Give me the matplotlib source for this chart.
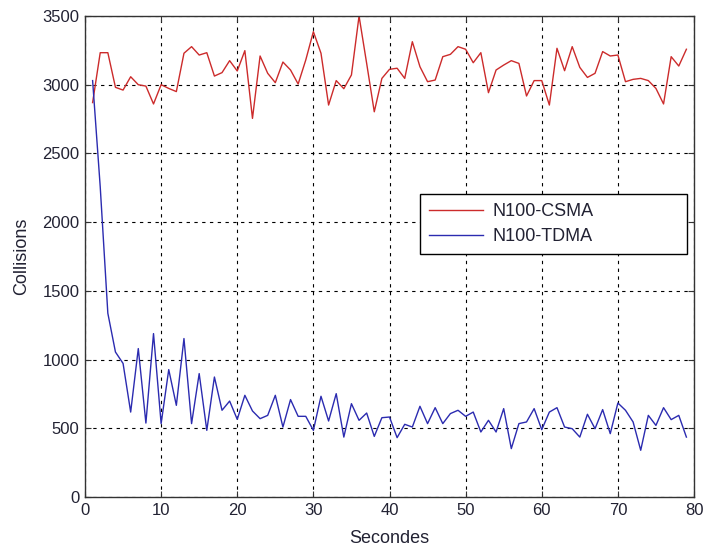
import matplotlib
matplotlib.use("Agg")
import matplotlib.pyplot as plt

seconds = list(range(1, 80))
csma = [2870, 3233, 3233, 2981, 2961, 3058, 3000, 2990, 2860, 3000,
        2973, 2950, 3229, 3277, 3216, 3233, 3063, 3088, 3175, 3100,
        3248, 2755, 3209, 3083, 3015, 3165, 3107, 3005, 3180, 3386,
        3229, 2852, 3030, 2971, 3071, 3500, 3155, 2803, 3046, 3112,
        3120, 3046, 3313, 3131, 3022, 3034, 3204, 3221, 3277, 3258,
        3160, 3233, 2942, 3107, 3143, 3175, 3155, 2918, 3030, 3030,
        2852, 3265, 3102, 3277, 3126, 3053, 3083, 3241, 3209, 3216,
        3022, 3039, 3046, 3030, 2973, 2860, 3204, 3136, 3258]
tdma = [3030, 2257, 1337, 1055, 972, 618, 1080, 538, 1189, 534,
        927, 667, 1153, 534, 898, 485, 873, 631, 698, 565,
        740, 626, 570, 594, 740, 509, 709, 587, 587, 485,
        733, 553, 752, 436, 679, 558, 611, 441, 577, 582,
        432, 529, 509, 660, 534, 650, 534, 607, 631, 587,
        618, 473, 558, 473, 643, 352, 534, 546, 643, 490,
        618, 650, 509, 497, 436, 602, 497, 636, 461, 684,
        631, 546, 340, 594, 521, 650, 563, 594, 436]
labels = ["N100-CSMA", "N100-TDMA"]

plt.rcParams['font.family'] = ['Liberation Sans', 'DejaVu Sans']
txt = '#222233'
fig = plt.figure(figsize=(7.05, 5.52), dpi=100)
ax = fig.add_axes([85/705, 1-497/552, 609/705, 481/552])
ax.plot(seconds, csma, color='#cc2b2b', lw=1.0, label=labels[0])
ax.plot(seconds, tdma, color='#2b2bb0', lw=1.0, label=labels[1])
ax.set_xlim(0, 80)
ax.set_ylim(0, 3500)
ax.set_xticks(range(0, 81, 10))
ax.set_yticks(range(0, 3501, 500))
ax.grid(True, color='black', linestyle=(0, (3, 4)), linewidth=0.8)
ax.tick_params(direction='in', top=True, right=True, labelsize=12, length=4,
               colors='#333333', labelcolor=txt, pad=4)
for s in ax.spines.values():
    s.set_linewidth(1.0)
    s.set_color('#333333')
ax.set_xlabel("Secondes", fontsize=13, labelpad=9, color=txt)
ax.set_ylabel("Collisions", fontsize=13, labelpad=9, color=txt)
leg = ax.legend(loc='lower left', bbox_to_anchor=(0.55, 0.505, 0.438, 0.123),
                mode='expand', fancybox=False, edgecolor='black', framealpha=1,
                fontsize=13, handlelength=3.0, handletextpad=0.5,
                borderaxespad=0, labelspacing=0.45, borderpad=0.5)
for t in leg.get_texts():
    t.set_color(txt)
leg.get_frame().set_linewidth(1.0)
fig.savefig("out.png", dpi=100)
